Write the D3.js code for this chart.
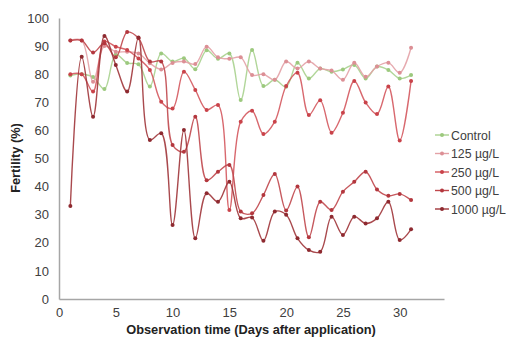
<!DOCTYPE html>
<html>
<head>
<meta charset="utf-8">
<script src="https://cdn.jsdelivr.net/npm/d3@7"></script>
<style>
  body { margin: 0; background: #fff; }
  text { font-family: "Liberation Sans", Arial, sans-serif; }
</style>
</head>
<body>
<div id="chart"></div>
<script>
// observation days
const days = [1, 2, 3, 4, 5, 6, 7, 8, 9, 10, 11, 12, 13, 14, 15, 16, 17, 18, 19, 20, 21, 22, 23, 24, 25, 26, 27, 28, 29, 30, 31];

// fertility (%) per treatment
const control = [79.5, 80, 79, 74.7, 87, 84, 83.5, 75.6, 87.4, 84.5, 85.7, 81.8, 88.5, 85.5, 87.4, 70.8, 88.6, 75.8, 78, 75.5, 84.1, 78.5, 82, 80.9, 81.7, 83.3, 78.5, 82.7, 81.5, 78.5, 79.7];
const c125 = [92, 92, 77.3, 90, 88, 88, 87.4, 83.9, 81.7, 84, 84.5, 83.6, 89.8, 86, 85.5, 86, 79.7, 80, 78, 84.5, 82, 84.5, 82, 81.3, 78, 84.1, 79.1, 82.7, 84.1, 80.5, 89.4];
const c250 = [80, 80, 73.8, 91.6, 89.8, 88.6, 85.6, 81.5, 70.2, 67.8, 80.9, 74.4, 67.3, 69, 31.7, 63.1, 67, 58.7, 63.1, 75.8, 80.5, 65.5, 70.7, 59.2, 66.3, 77.6, 69.9, 65.8, 75.6, 56.4, 77.6];
const c500 = [92, 92, 87.7, 91, 86, 95, 92.8, 84.5, 84.5, 54.8, 52.4, 64.9, 42.3, 45.3, 47.7, 31.1, 30.5, 37, 44.5, 31.5, 40, 22, 34.6, 31.7, 38.2, 41.7, 45.3, 39, 36.7, 37.4, 35.2];
const c1000 = [33.1, 86.2, 64.9, 93.6, 83.3, 73.8, 93.1, 56.6, 59, 26.3, 60.1, 21.6, 37.6, 34.6, 41.7, 28.7, 29, 20.7, 31.1, 30, 21.6, 17.4, 16.8, 29.3, 22.8, 29.3, 26.9, 28.7, 34.6, 21, 24.8];

const seriesNames = ['Control', '125 µg/L', '250 µg/L', '500 µg/L', '1000 µg/L'];
const xTicks = [0, 5, 10, 15, 20, 25, 30];
const yTicks = [0, 10, 20, 30, 40, 50, 60, 70, 80, 90, 100];

const colors = ['#a9d18e', '#e3a1a6', '#d4585e', '#c0474c', '#a0353a'];
const markerColors = ['#9cc97e', '#dc8f95', '#c9434a', '#b3373e', '#8e2a30'];

const series = [control, c125, c250, c500, c1000].map((vals, i) => ({
  name: seriesNames[i],
  color: colors[i],
  marker: markerColors[i],
  values: vals.map((v, j) => ({ day: days[j], value: v }))
}));

const w = 506, h = 340;
const svg = d3.select('#chart').append('svg').attr('width', w).attr('height', h);

const x = d3.scaleLinear().domain([0, 33.9]).range([59, 444]);
const y = d3.scaleLinear().domain([0, 100]).range([299, 18]);

// axes
const xAxis = svg.append('g').attr('transform', `translate(0, ${y(0)})`)
  .call(d3.axisBottom(x).tickValues(xTicks).tickSize(0).tickPadding(9));
const yAxis = svg.append('g').attr('transform', `translate(${x(0)}, 0)`)
  .call(d3.axisLeft(y).tickValues(yTicks).tickSize(0).tickPadding(10));

[xAxis, yAxis].forEach(a => {
  a.select('.domain').attr('stroke', '#a6a6a6').attr('stroke-width', 1.5);
  a.selectAll('text').attr('font-size', 13).attr('fill', '#404040');
});

// axis titles
svg.append('text')
  .attr('x', 251).attr('y', 334)
  .attr('text-anchor', 'middle')
  .attr('font-size', 12.8).attr('font-weight', 'bold').attr('fill', '#222')
  .text('Observation time (Days after application)');

svg.append('text')
  .attr('transform', 'translate(20, 158) rotate(-90)')
  .attr('text-anchor', 'middle')
  .attr('font-size', 12.8).attr('font-weight', 'bold').attr('fill', '#222')
  .text('Fertility (%)');

// lines + markers
const line = d3.line()
  .x(d => x(d.day))
  .y(d => y(d.value))
  .curve(d3.curveCatmullRom.alpha(0.5));

const g = svg.append('g');
series.forEach(s => {
  g.append('path')
    .attr('d', line(s.values))
    .attr('fill', 'none')
    .attr('stroke', s.color)
    .attr('stroke-width', 1.4)
    .attr('stroke-opacity', 0.9);

  g.selectAll(null)
    .data(s.values)
    .enter().append('circle')
    .attr('cx', d => x(d.day))
    .attr('cy', d => y(d.value))
    .attr('r', 2)
    .attr('fill', s.marker);
});

// legend
const legend = svg.append('g').attr('transform', 'translate(435, 135)');
series.forEach((s, i) => {
  const row = legend.append('g').attr('transform', `translate(0, ${i * 18.5})`);
  row.append('line').attr('x1', 0).attr('x2', 14).attr('y1', 0).attr('y2', 0)
    .attr('stroke', s.color).attr('stroke-width', 1.4);
  row.append('circle').attr('cx', 7).attr('cy', 0).attr('r', 2).attr('fill', s.marker);
  row.append('text').attr('x', 16).attr('y', 4.5)
    .attr('font-size', 12.3).attr('fill', '#404040')
    .text(s.name);
});
</script>
</body>
</html>
